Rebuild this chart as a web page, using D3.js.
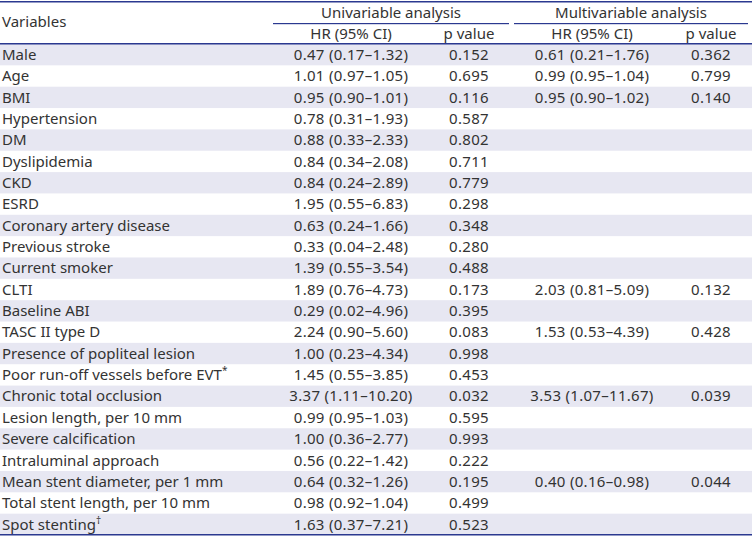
<!DOCTYPE html>
<html><head><meta charset="utf-8">
<script src="https://cdn.jsdelivr.net/npm/d3@7"></script>
<style>body{margin:0;background:#fff}svg{display:block}text{font-family:"Noto Sans",sans-serif;fill:#333;font-size:15px}.num{letter-spacing:0.3px}</style>
</head><body>
<svg id="t" width="752" height="538"></svg>
<script>
const variables = ["Male","Age","BMI","Hypertension","DM","Dyslipidemia","CKD","ESRD","Coronary artery disease","Previous stroke","Current smoker","CLTI","Baseline ABI","TASC II type D","Presence of popliteal lesion","Poor run-off vessels before EVT","Chronic total occlusion","Lesion length, per 10 mm","Severe calcification","Intraluminal approach","Mean stent diameter, per 1 mm","Total stent length, per 10 mm","Spot stenting"];
const footmarks = ["","","","","","","","","","","","","","","","*","","","","","","","†"];
const uniHR = ["0.47 (0.17–1.32)","1.01 (0.97–1.05)","0.95 (0.90–1.01)","0.78 (0.31–1.93)","0.88 (0.33–2.33)","0.84 (0.34–2.08)","0.84 (0.24–2.89)","1.95 (0.55–6.83)","0.63 (0.24–1.66)","0.33 (0.04–2.48)","1.39 (0.55–3.54)","1.89 (0.76–4.73)","0.29 (0.02–4.96)","2.24 (0.90–5.60)","1.00 (0.23–4.34)","1.45 (0.55–3.85)","3.37 (1.11–10.20)","0.99 (0.95–1.03)","1.00 (0.36–2.77)","0.56 (0.22–1.42)","0.64 (0.32–1.26)","0.98 (0.92–1.04)","1.63 (0.37–7.21)"];
const uniP = ["0.152","0.695","0.116","0.587","0.802","0.711","0.779","0.298","0.348","0.280","0.488","0.173","0.395","0.083","0.998","0.453","0.032","0.595","0.993","0.222","0.195","0.499","0.523"];
const multiHR = ["0.61 (0.21–1.76)","0.99 (0.95–1.04)","0.95 (0.90–1.02)","","","","","","","","","2.03 (0.81–5.09)","","1.53 (0.53–4.39)","","","3.53 (1.07–11.67)","","","","0.40 (0.16–0.98)","",""];
const multiP = ["0.362","0.799","0.140","","","","","","","","","0.132","","0.428","","","0.039","","","","0.044","",""];
const groupLabels = ["Univariable analysis","Multivariable analysis"];
const subLabels = ["HR (95% CI)","p value","HR (95% CI)","p value"];

const svg = d3.select("#t");
const W = 752, lineCol = "#2b3990", shade = "#e7e7f2";
const y = d3.scaleBand().domain(d3.range(variables.length)).range([44, 535]).padding(0);
const colCenters = [351, 469, 592, 711];
const groups = [[273, 509], [514, 748]];

svg.selectAll("rect.row").data(d3.range(variables.length).filter(i => i % 2 === 0)).join("rect")
  .attr("x", 0).attr("width", W).attr("y", i => y(i)).attr("height", y.bandwidth()).attr("fill", shade);

svg.append("rect").attr("x",0).attr("y",1).attr("width",W).attr("height",1.5).attr("fill",lineCol);
svg.append("rect").attr("x",0).attr("y",43).attr("width",W).attr("height",1.5).attr("fill",lineCol);
svg.append("rect").attr("x",0).attr("y",534).attr("width",W).attr("height",1.5).attr("fill",lineCol);
groups.forEach(g => svg.append("rect").attr("x",g[0]).attr("y",23).attr("width",g[1]-g[0]).attr("height",1.2).attr("fill",lineCol));

svg.append("text").attr("x",2).attr("y",22).attr("dy","0.35em").text("Variables");
groups.forEach((g,i) => svg.append("text").attr("x",(g[0]+g[1])/2).attr("y",13).attr("dy","0.35em").attr("text-anchor","middle").text(groupLabels[i]));
subLabels.forEach((s,i) => svg.append("text").attr("x",colCenters[i]).attr("y",33.5).attr("dy","0.35em").attr("text-anchor","middle").text(s));

const rows = svg.selectAll("g.r").data(variables.map((v,i)=>({v,i}))).join("g")
  .attr("transform", d => `translate(0,${y(d.i)+y.bandwidth()/2})`);
const lab = rows.append("text").attr("x",2).attr("dy","0.35em");
lab.append("tspan").text(d=>d.v);
lab.append("tspan").attr("font-size","10px").attr("dy","-0.6em").text(d=>footmarks[d.i]);
[uniHR, uniP, multiHR, multiP].forEach((arr,c) => {
  rows.append("text").attr("class","num").attr("x",colCenters[c]).attr("dy","0.35em").attr("text-anchor","middle").text(d=>arr[d.i]);
});
</script>
</body></html>
